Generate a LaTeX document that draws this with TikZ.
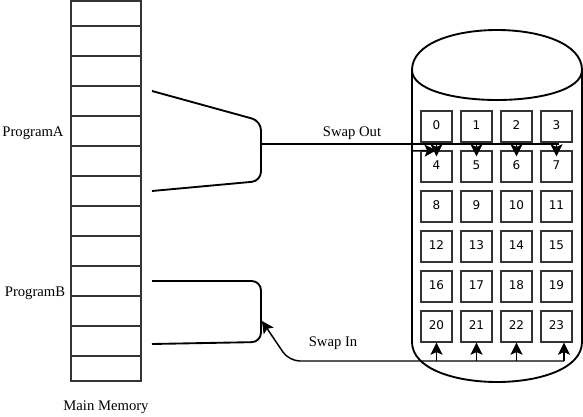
\documentclass[tikz,border=0pt]{standalone}
\usepackage{fontspec}
\setmainfont{Liberation Serif}
\newfontfamily\numfont{DejaVu Sans}
\usetikzlibrary{arrows.meta}
\tikzset{
  memline/.style={draw=black!80,line width=1.1pt},
  brk/.style={draw=black,line width=1.4pt,rounded corners=7pt},
  cyl/.style={draw=black,line width=1.4pt},
  conn/.style={draw=black,line width=1.1pt},
  arr/.style={draw=black,line width=1.1pt,-{Stealth[length=9pt,width=9pt,inset=2pt,fill=black,line width=0.6pt]}},
  lbl/.style={font=\fontsize{11}{13}\selectfont,inner sep=0pt},
  cell/.style={draw=black!80,line width=1.1pt,minimum size=23.25pt,inner sep=0pt,
    font=\numfont\fontsize{9}{10}\selectfont},
}
\begin{document}
\begin{tikzpicture}[x=0.75pt,y=-0.75pt]
\useasboundingbox (0,0) rectangle (583,417);
% main memory
\draw[memline] (71,1) rectangle (141,381);
\foreach \y in {26,56,...,356} \draw[memline] (71,\y) -- (141,\y);
% labels
\node[lbl] (pa) at (33,133) {ProgramA};
\node[lbl] (pb) at (35,293) {ProgramB};
\node[lbl] (mm) at (106,407) {Main Memory};
\node[lbl] (so) at (352,133) {Swap Out};
\node[lbl] (si) at (333,343) {Swap In};
% cylinder
\draw[cyl] (412,70) .. controls (412,16.67) and (582,16.67) .. (582,70)
  -- (582,342) .. controls (582,395.33) and (412,395.33) .. (412,342) -- cycle;
\draw[cyl] (412,70) .. controls (412,110) and (582,110) .. (582,70);
% cells
\foreach \i in {0,...,23} {
  \pgfmathtruncatemacro\c{mod(\i,4)}
  \pgfmathtruncatemacro\r{div(\i,4)}
  \node[cell] (b\i) at ({436.5+40*\c},{126.5+40*\r}) {\raisebox{2pt}{\i}};
}
% brackets
\coordinate (a1) at (152,91);
\coordinate (a2) at (261,121);
\coordinate (a3) at (261,181);
\coordinate (a4) at (152,191);
\draw[brk] (a1) -- (a2) -- (a3) -- (a4);
\coordinate (p1) at (152,281);
\coordinate (p2) at (261,281);
\coordinate (p3) at (261,342);
\coordinate (p4) at (152,344);
\draw[brk] (p1) -- (p2) -- (p3) -- (p4);
% swap out
\coordinate (soStart) at (261,144);
\coordinate (soEnd) at (559,144);
\draw[conn] (soStart) -- (soEnd);
\foreach \b in {4,5,6,7}
  \draw[arr] (b\b.north |- soStart) -- ([yshift=-4.5pt]b\b.north);
\coordinate (cl) at (412,151);
\draw[arr] (cl) -- (b4.north);
% swap in
\coordinate (siR) at (564,361);
\coordinate (siC) at (289,361);
\coordinate (pbIn) at (262,321);
\draw[arr,rounded corners=8pt] (siR) -- (siC) -- (pbIn);
\foreach \b in {20,21,22}
  \draw[arr] (b\b.south |- siR) -- (b\b.south);
\draw[arr] (siR) -- (siR |- b23.south);
\end{tikzpicture}
\end{document}
